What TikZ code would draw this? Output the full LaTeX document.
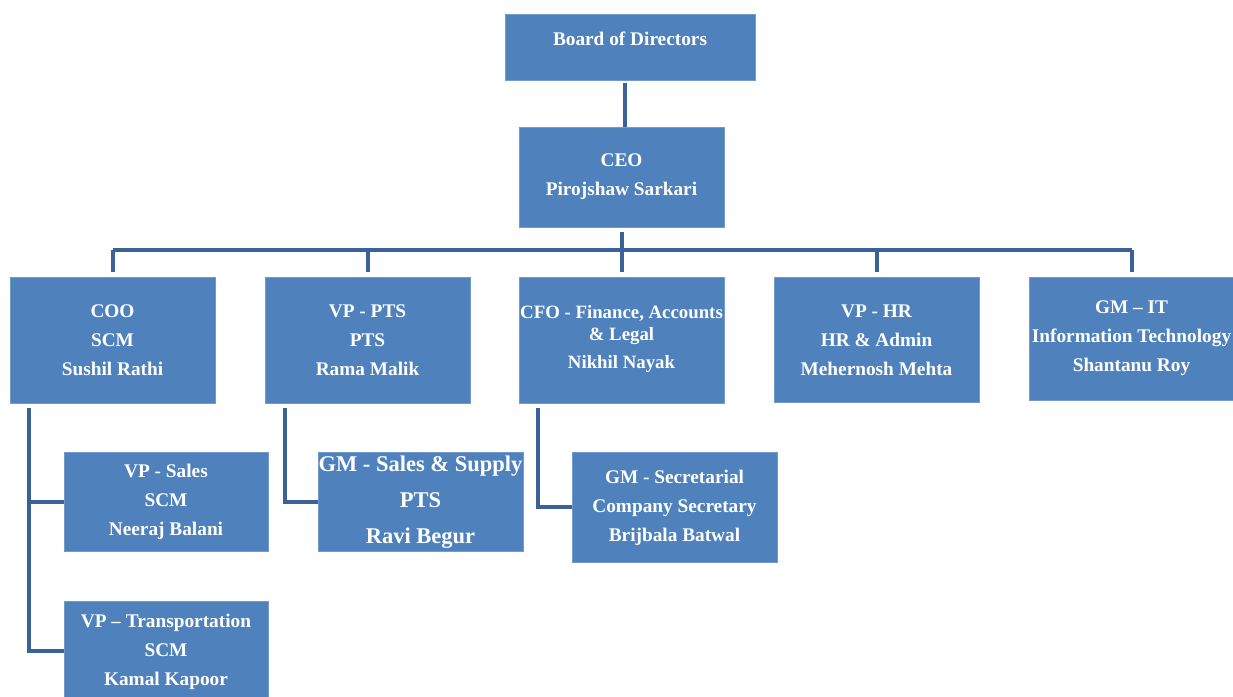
\documentclass[tikz,border=0pt]{standalone}
\usepackage{fontspec}
\setmainfont{Liberation Serif}
\usetikzlibrary{calc}
\definecolor{boxblue}{HTML}{4F81BD}
\definecolor{linkblue}{RGB}{58,98,150}
\tikzset{
  box/.style={rectangle, fill=boxblue, draw=boxblue!80!white, line width=0.6pt, inner sep=0pt},
  txt/.style={text=white, align=center, font=\bfseries\fontsize{19.3}{29}\selectfont, inner sep=0pt},
  conn/.style={draw=linkblue, line width=4pt, line join=miter}
}
\begin{document}
\begin{tikzpicture}[x=1pt,y=-1pt]
\useasboundingbox (0,0) rectangle (1233,696);
% boxes
\node[box, minimum width=250, minimum height=66] (board) at (630,47) {};
\node[box, minimum width=205, minimum height=100] (ceo) at (621.5,177) {};
\node[box, minimum width=205, minimum height=126] (coo) at (112.5,340) {};
\node[box, minimum width=205, minimum height=126] (pts) at (367.5,340) {};
\node[box, minimum width=205, minimum height=126] (cfo) at (621.5,340) {};
\node[box, minimum width=205, minimum height=125] (hr) at (876.5,339.5) {};
\node[box, minimum width=205, minimum height=123] (it) at (1131.5,338.5) {};
\node[box, minimum width=204, minimum height=99] (vps) at (166,501.5) {};
\node[box, minimum width=204, minimum height=99] (vpt) at (166,650.5) {};
\node[box, minimum width=205, minimum height=99] (gmss) at (420.5,501.5) {};
\node[box, minimum width=205, minimum height=110] (gmsec) at (674.5,507) {};
% texts
\node[txt] (tboard) at (630,39) {Board of Directors};
\node[txt] (tceo) at (621.5,177) {CEO\\Pirojshaw Sarkari};
\node[txt] (tcoo) at (112.5,340) {COO\\SCM\\Sushil Rathi};
\node[txt] (tpts) at (367.5,340) {VP - PTS\\PTS\\Rama Malik};
\node[txt, font=\bfseries\fontsize{18.8}{22}\selectfont] (tcfo) at (621.5,339) {CFO - Finance, Accounts\\\& Legal\\[6pt]Nikhil Nayak};
\node[txt] (thr) at (876.5,340) {VP - HR\\HR \& Admin\\Mehernosh Mehta};
\node[txt] (tit) at (1131.5,338) {GM -- IT\\Information Technology\\Shantanu Roy};
\node[txt] (tvps) at (166,502) {VP - Sales\\SCM\\Neeraj Balani};
\node[txt] (tvpt) at (166,652) {VP -- Transportation\\SCM\\Kamal Kapoor};
\node[txt, font=\bfseries\fontsize{22.5}{36}\selectfont] (tgmss) at (420.5,502) {GM - Sales \& Supply\\PTS\\Ravi Begur};
\node[txt] (tgmsec) at (674.5,508) {GM - Secretarial\\Company Secretary\\Brijbala Batwal};
% connectors
\coordinate (bar) at (621.5,250);
\draw[conn] ([yshift=-3pt]board.south -| 625,0) -- (ceo.north -| 625,0);
\draw[conn] ([yshift=-5pt]ceo.south) -- (bar);
\draw[conn] (coo.north |- bar) -- (it.north |- bar);
\foreach \n in {coo,pts,cfo,hr,it}{
  \draw[conn] (\n.north |- bar) -- ([yshift=5pt]\n.north);
}
\coordinate (cooL) at (29,408);
\coordinate (ptsL) at (285,408);
\coordinate (cfoL) at (538,408);
\draw[conn] (cooL) |- (vpt.west);
\draw[conn] (cooL |- vps.west) -- (vps.west);
\draw[conn] (ptsL) |- (gmss.west);
\draw[conn] (cfoL) |- (gmsec.west);
\end{tikzpicture}
\end{document}
